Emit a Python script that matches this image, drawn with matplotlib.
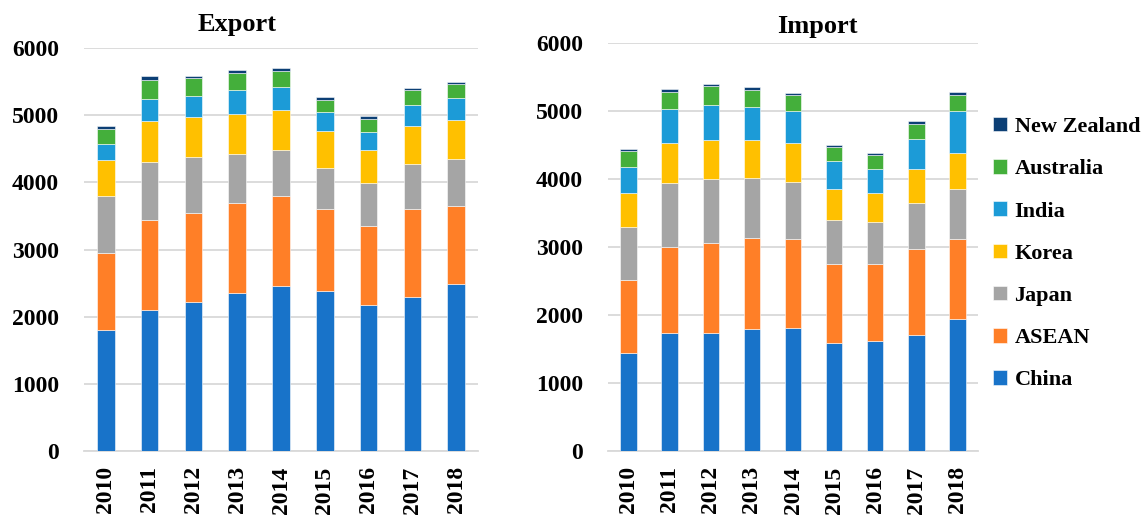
import numpy as np
import matplotlib.pyplot as plt

plt.rcParams['font.family'] = ['Liberation Serif', 'DejaVu Serif']
plt.rcParams['font.weight'] = 'bold'

years = ['2010', '2011', '2012', '2013', '2014', '2015', '2016', '2017', '2018']
partners = ['China', 'ASEAN', 'Japan', 'Korea', 'India', 'Australia', 'New Zealand']
colors = ['#1873C9', '#FF7F27', '#A5A5A5', '#FFC000', '#1C9BD7', '#44AF3B', '#0C3F75']

# exports by partner
exp_china = [1800, 2098, 2222, 2356, 2460, 2385, 2168, 2296, 2485]
exp_asean = [1151, 1340, 1324, 1339, 1330, 1212, 1180, 1301, 1156]
exp_japan = [844, 867, 834, 729, 694, 619, 636, 669, 700]
exp_korea = [535, 613, 587, 594, 598, 554, 503, 578, 592]
exp_india = [242, 317, 312, 356, 331, 272, 268, 302, 317]
exp_australia = [228, 292, 273, 257, 248, 188, 193, 223, 214]
exp_nz = [34, 50, 35, 40, 40, 40, 34, 35, 34]

# imports by partner
imp_china = [1437, 1731, 1731, 1790, 1813, 1593, 1622, 1710, 1946]
imp_asean = [1078, 1265, 1323, 1338, 1300, 1153, 1124, 1261, 1167]
imp_japan = [784, 941, 946, 891, 847, 651, 622, 680, 736]
imp_korea = [491, 597, 574, 555, 565, 460, 426, 491, 538]
imp_india = [391, 491, 519, 489, 470, 403, 357, 451, 617]
imp_australia = [231, 259, 270, 250, 240, 211, 202, 220, 231]
imp_nz = [34, 44, 34, 35, 34, 29, 29, 40, 40]

export_series = [exp_china, exp_asean, exp_japan, exp_korea, exp_india, exp_australia, exp_nz]
import_series = [imp_china, imp_asean, imp_japan, imp_korea, imp_india, imp_australia, imp_nz]

W, H = 1145, 515
fig = plt.figure(figsize=(W / 100, H / 100), dpi=100)
ax_exp = fig.add_axes([84 / W, 64 / H, 394 / W, 403 / H])
ax_imp = fig.add_axes([608 / W, 64 / H, 370 / W, 408 / H])

x = np.arange(len(years))


def draw_stack(ax, series):
    bottom = np.zeros(len(years))
    handles = []
    for name, vals, col in zip(partners, series, colors):
        vals = np.array(vals, dtype=float)
        b = ax.bar(x, vals, width=0.40, bottom=bottom, color=col,
                   edgecolor=(1, 1, 1, 0.55), linewidth=0.7, label=name, zorder=3)
        handles.append(b)
        bottom += vals
    ax.set_xlim(-0.5, len(years) - 0.5)
    ax.set_ylim(0, 6000)
    ax.set_yticks(range(0, 6001, 1000))
    ax.set_xticks(x)
    ax.set_xticklabels(years, rotation=90, fontsize=17, fontweight='bold')
    ax.tick_params(axis='y', length=0, pad=18, labelsize=17)
    ax.tick_params(axis='x', length=0, pad=11)
    for lab in ax.get_yticklabels():
        lab.set_fontweight('bold')
    ax.grid(axis='y', color='#D9D9D9', linewidth=1.3, zorder=0)
    for s in ['top', 'right', 'left']:
        ax.spines[s].set_visible(False)
    ax.spines['bottom'].set_color('#D9D9D9')
    ax.spines['bottom'].set_linewidth(1.3)
    ax.set_axisbelow(True)
    return handles


h = draw_stack(ax_exp, export_series)
draw_stack(ax_imp, import_series)

fig.text(237 / W, 1 - 25 / H, 'Export', ha='center', va='center', fontsize=19, fontweight='bold')
fig.text(817 / W, 1 - 27 / H, 'Import', ha='center', va='center', fontsize=19, fontweight='bold')

fig.legend(h[::-1], partners[::-1], loc='upper left',
           bbox_to_anchor=(993 / W, 1 - 117 / H), frameon=False,
           handlelength=0.62, handleheight=0.62, handletextpad=0.35,
           labelspacing=1.0, borderpad=0, borderaxespad=0,
           prop={'weight': 'bold', 'size': 16})

fig.savefig('out.png', dpi=100)
